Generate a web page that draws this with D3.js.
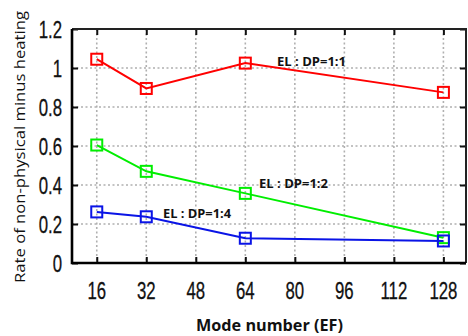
<!DOCTYPE html>
<html><head><meta charset="utf-8">
<script src="https://cdn.jsdelivr.net/npm/d3@7"></script>
<style>body{margin:0;background:#fff}svg{display:block}</style>
</head><body>
<svg id="c" width="468" height="336"></svg>
<script>
const modes = [16, 32, 64, 128];
const ratio11 = [1.045, 0.895, 1.025, 0.875];
const ratio12 = [0.605, 0.470, 0.357, 0.130];
const ratio14 = [0.262, 0.237, 0.127, 0.113];
const xTicks = [16, 32, 48, 64, 80, 96, 112, 128];
const yTicks = [0, 0.2, 0.4, 0.6, 0.8, 1, 1.2];
const yTickLabels = ["0", "0.2", "0.4", "0.6", "0.8", "1", "1.2"];
const seriesNames = ["EL : DP=1:1", "EL : DP=1:2", "EL : DP=1:4"];
const seriesColors = ["#ff0000", "#00ee00", "#0a14e6"];
const xTitle = "Mode number (EF)";
const yTitle = "Rate of non-physical minus heating";

const svg = d3.select("#c");
const L = 72, R = 466, T = 29, B = 263;
const x = d3.scaleLinear().domain([8.0, 135.3]).range([L, R]);
const y = d3.scaleLinear().domain([0, 1.2]).range([B, T]);

// grid
const g = svg.append("g");
g.selectAll(".vg").data(xTicks).join("line")
  .attr("x1", d => x(d)).attr("x2", d => x(d)).attr("y1", T).attr("y2", B)
  .attr("stroke", "#b0b0b0").attr("stroke-width", 1.6).attr("stroke-dasharray", "2,2.5");
g.selectAll(".hg").data(yTicks.filter(d => d > 0 && d < 1.2)).join("line")
  .attr("x1", L).attr("x2", R).attr("y1", d => y(d)).attr("y2", d => y(d))
  .attr("stroke", "#b0b0b0").attr("stroke-width", 1.6).attr("stroke-dasharray", "2,2.5");

// axes (inward ticks)
const axB = d3.axisBottom(x).tickValues(xTicks).tickSize(-6).tickFormat("");
const axT = d3.axisTop(x).tickValues(xTicks).tickSize(-6).tickFormat("");
const axL = d3.axisLeft(y).tickValues(yTicks).tickSize(-6).tickFormat("");
const axR = d3.axisRight(y).tickValues(yTicks).tickSize(-6).tickFormat("");
[[axB, `translate(0,${B})`], [axT, `translate(0,${T})`], [axL, `translate(${L},0)`], [axR, `translate(${R},0)`]]
  .forEach(([a, tr]) => {
    const gg = svg.append("g").attr("transform", tr).call(a);
    gg.select(".domain").remove();
    gg.selectAll(".tick line").attr("stroke", "#111").attr("stroke-width", 2);
  });
// frame
svg.append("path").attr("d", `M${L},${T}H${R}V${B}`).attr("fill", "none").attr("stroke", "#222").attr("stroke-width", 2);
svg.append("path").attr("d", `M${L},${T}V${B}H${R}`).attr("fill", "none").attr("stroke", "#000").attr("stroke-width", 2.6);

// tick labels (condensed)
svg.append("g").selectAll("text").data(xTicks).join("text")
  .attr("transform", d => `translate(${x(d)},299) scale(0.7,1)`)
  .attr("text-anchor", "middle").attr("font-family", "Liberation Sans, Arial, sans-serif")
  .attr("font-size", 24).attr("fill", "#111").attr("stroke", "#111").attr("stroke-width", 0.3)
  .text(d => d);
svg.append("g").selectAll("text").data(yTicks).join("text")
  .attr("transform", d => `translate(62,${y(d) + 8.5}) scale(0.7,1)`)
  .attr("text-anchor", "end").attr("font-family", "Liberation Sans, Arial, sans-serif")
  .attr("font-size", 24).attr("fill", "#111").attr("stroke", "#111").attr("stroke-width", 0.3)
  .text((d, i) => yTickLabels[i]);

// series
const series = [ratio11, ratio12, ratio14];
const line = d3.line().x((d, i) => x(modes[i])).y(d => y(d));
series.forEach((vals, k) => {
  svg.append("path").datum(vals).attr("d", line).attr("fill", "none")
    .attr("stroke", seriesColors[k]).attr("stroke-width", 2);
  svg.append("g").selectAll("rect").data(vals).join("rect")
    .attr("x", (d, i) => x(modes[i]) - 5.5).attr("y", d => y(d) - 5.5)
    .attr("width", 11).attr("height", 11).attr("fill", "none")
    .attr("stroke", seriesColors[k]).attr("stroke-width", 2);
});

// annotations
const annPos = [[277, 66, 69], [259, 188, 69], [163, 218, 68]];
annPos.forEach(([ax, ay, w], k) => {
  svg.append("text").attr("x", ax).attr("y", ay)
    .attr("font-family", "Open Sans, Liberation Sans, sans-serif").attr("font-weight", "bold")
    .attr("font-size", 13).attr("fill", "#111")
    .attr("textLength", w).attr("lengthAdjust", "spacingAndGlyphs")
    .text(seriesNames[k]);
});

// titles
svg.append("text").attr("x", 196).attr("y", 331)
  .attr("font-family", "Open Sans, Liberation Sans, sans-serif").attr("font-weight", "bold")
  .attr("font-size", 16).attr("fill", "#111")
  .attr("textLength", 147).attr("lengthAdjust", "spacingAndGlyphs").text(xTitle);
svg.append("text").attr("transform", "translate(25,283) rotate(-90)")
  .attr("font-family", "Open Sans, Liberation Sans, sans-serif")
  .attr("font-size", 15).attr("fill", "#111")
  .attr("textLength", 272).attr("lengthAdjust", "spacingAndGlyphs").text(yTitle);
</script>
</body></html>
